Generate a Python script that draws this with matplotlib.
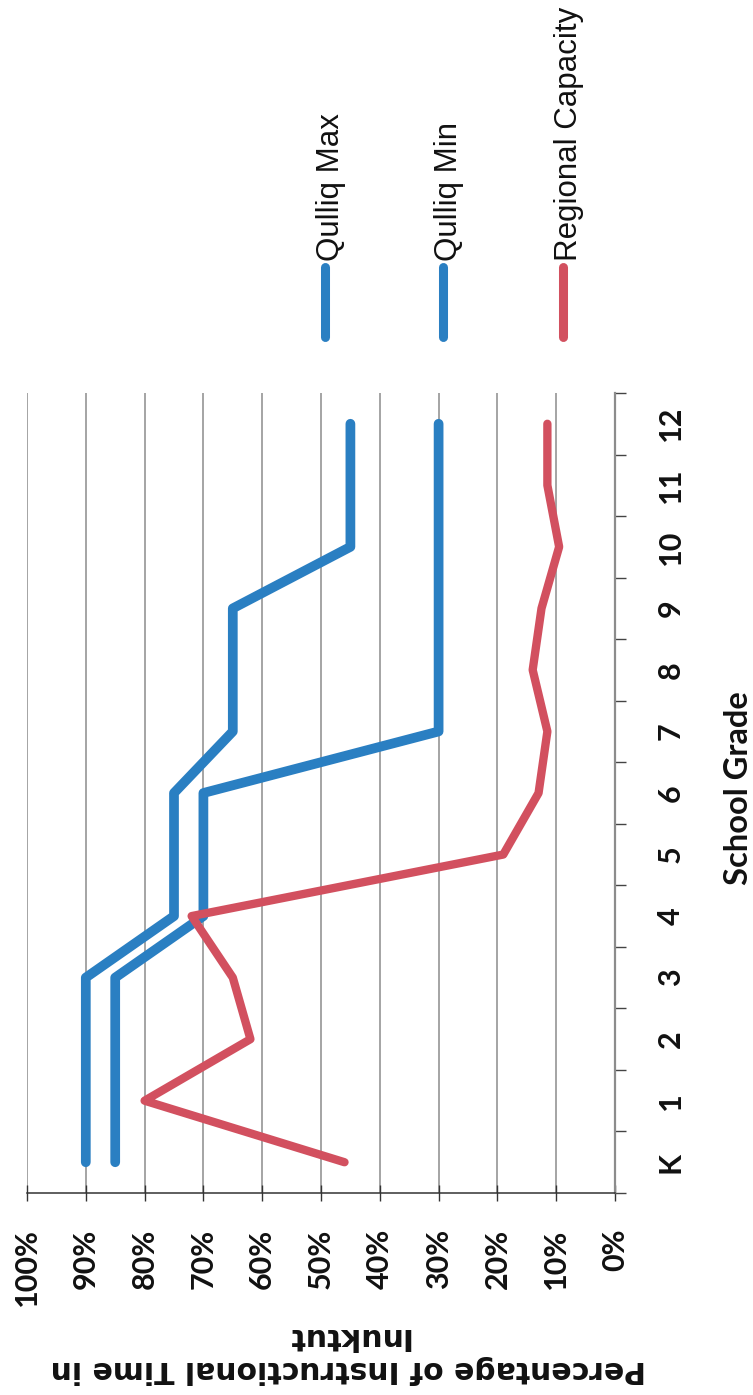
import matplotlib
matplotlib.use("Agg")
import matplotlib.pyplot as plt
from matplotlib.lines import Line2D
import numpy as np

# School grades (category axis) and the three series, in percent
grades = ["K", "1", "2", "3", "4", "5", "6", "7", "8", "9", "10", "11", "12"]
qulliq_max = [90, 90, 90, 90, 75, 75, 75, 65, 65, 65, 45, 45, 45]
qulliq_min = [85, 85, 85, 85, 70, 70, 70, 30, 30, 30, 30, 30, 30]
regional_capacity = [46, 80, 62, 65, 72, 19, 13, 11.5, 14, 12.5, 9.5, 11.5, 11.5]

series_names = ["Qulliq Max", "Qulliq Min", "Regional Capacity"]
pct_ticks = list(range(0, 101, 10))
pct_labels = [f"{v}%" for v in pct_ticks]

BLUE = "#2a7fc2"
RED = "#d2505f"
series_colors = [BLUE, BLUE, RED]
series_widths = [7.0, 7.0, 6.0]

tick_font = dict(family="Lato", fontweight="bold", fontsize=22)

W, H = 753, 1395
fig = plt.figure(figsize=(W / 100, H / 100), dpi=100)

# The chart is laid out sideways: grades run bottom-to-top, percent runs right-to-left
x_left, x_right = 27, 615
y_top, y_bot = 393, 1193
ax = fig.add_axes([x_left / W, 1 - y_bot / H, (x_right - x_left) / W, (y_bot - y_top) / H])

pos = np.arange(len(grades))
for vals, col, lw in zip([qulliq_max, qulliq_min, regional_capacity], series_colors, series_widths):
    ax.plot(vals, pos, color=col, lw=lw, solid_capstyle="round", solid_joinstyle="round", zorder=3)

ax.set_xlim(100, 0)
ax.set_ylim(-0.5, len(grades) - 0.5)

ax.set_xticks(pct_ticks)
ax.set_xticklabels(pct_labels, rotation=90, **tick_font)
ax.tick_params(axis="x", direction="inout", length=11, width=1, pad=20,
               colors="#333333", labelcolor="#111111")
ax.xaxis.grid(True, color="#959595", lw=1.2)
ax.set_axisbelow(True)

ax.yaxis.tick_right()
ax.set_yticks(pos)
ax.set_yticklabels(grades, rotation=90, va="center", **tick_font)
ax.set_yticks(np.arange(-0.5, len(grades), 1.0), minor=True)
ax.tick_params(axis="y", which="major", length=0, pad=30, labelcolor="#111111")
ax.tick_params(axis="y", which="minor", length=8, width=1, direction="out", colors="#444444")

for side in ["left", "top"]:
    ax.spines[side].set_visible(False)
ax.spines["right"].set_color("#8c8c8c")
ax.spines["right"].set_linewidth(1.6)
ax.spines["bottom"].set_color("#333333")
ax.spines["bottom"].set_linewidth(1.1)

# Axis titles
fig.text(348 / W, 1 - 1353 / H, "Percentage of Instructional Time in\nInuktut",
         rotation=180, ha="center", va="center", multialignment="center",
         family="DejaVu Sans", fontweight="bold", fontsize=21.5, color="#111111")
fig.text(738 / W, 1 - 788 / H, "School Grade", rotation=90, ha="center", va="center",
         family="Lato", fontweight="bold", fontsize=23.5, color="#111111")

# Legend, stacked across the top
legend_x = [325, 443, 563]
for name, col, lx in zip(series_names, series_colors, legend_x):
    fig.add_artist(Line2D([lx / W, lx / W], [1 - 337 / H, 1 - 267 / H], transform=fig.transFigure,
                          color=col, lw=6.5, solid_capstyle="round"))
    fig.text((lx + 6) / W, 1 - 261 / H, name, rotation=90, ha="center", va="bottom",
             family="Liberation Sans", fontsize=22.5, color="#111111")

fig.savefig("out.png", dpi=100, facecolor="white")
